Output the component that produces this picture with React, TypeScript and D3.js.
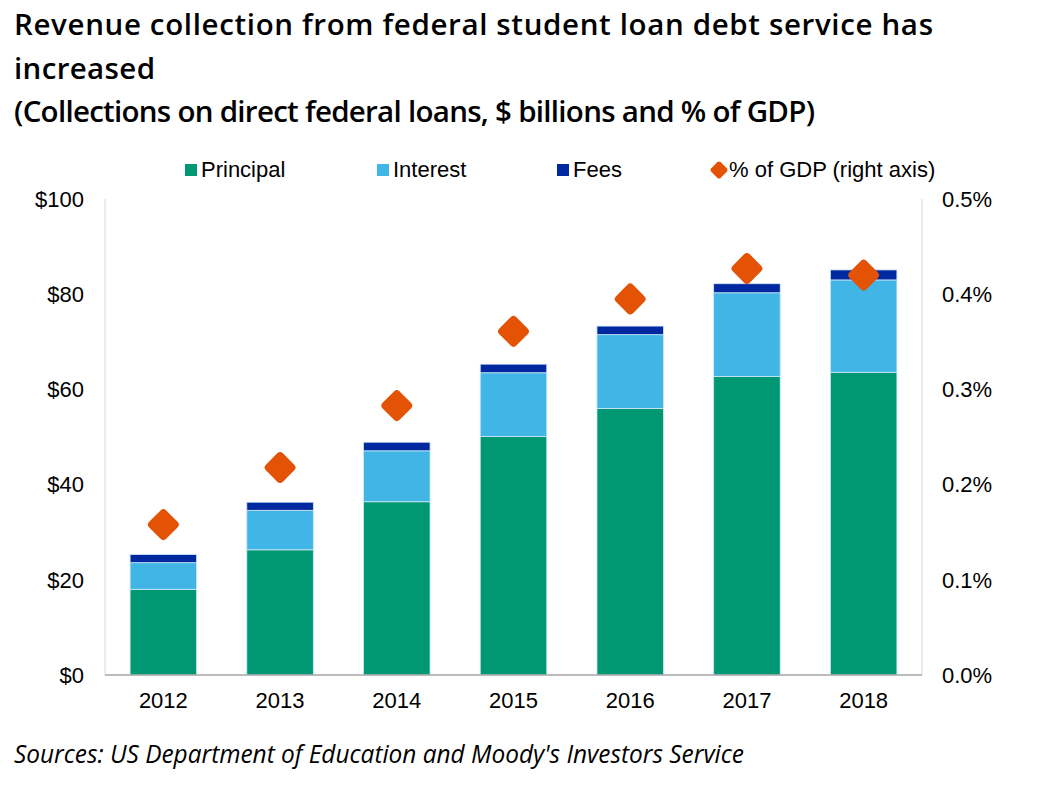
import { useEffect, useRef } from "react";
import * as d3 from "d3";

const years = ["2012", "2013", "2014", "2015", "2016", "2017", "2018"];
const principal = [18.0, 26.3, 36.4, 50.1, 56.0, 62.7, 63.6];
const interest = [5.6, 8.3, 10.7, 13.4, 15.5, 17.6, 19.4];
const fees = [1.7, 1.7, 1.8, 1.8, 1.8, 1.9, 2.1];
const gdpShare = [0.158, 0.218, 0.283, 0.361, 0.395, 0.427, 0.42];

const leftTicks = [0, 20, 40, 60, 80, 100];
const rightTicks = [0, 0.1, 0.2, 0.3, 0.4, 0.5];

const seriesKeys = ["principal", "interest", "fees"] as const;
const seriesNames = ["Principal", "Interest", "Fees"];

const titleLines = [
  "Revenue collection from federal student loan debt service has",
  "increased",
  "(Collections on direct federal loans, $ billions and % of GDP)",
];
const titleWidths = [919, 141, 801];
const sourceText = "Sources: US Department of Education and Moody's Investors Service";

const colors = {
  principal: "#009873",
  interest: "#41b6e6",
  fees: "#0028a0",
  gdp: "#e35205",
  text: "#000000",
  axis: "#d9d9d9",
  base: "#a6a6a6",
};

const W = 1040;
const H = 794;
const labelFont = "'Liberation Sans', Arial, sans-serif";
const titleFont = "'Open Sans', 'Noto Sans', sans-serif";

// rotated square with softened corners, centred on 0,0
function diamondPath(r: number, c: number) {
  const p = d3.path();
  const k = c / Math.SQRT2;
  p.moveTo(-k, -r + k);
  p.quadraticCurveTo(0, -r, k, -r + k);
  p.lineTo(r - k, -k);
  p.quadraticCurveTo(r, 0, r - k, k);
  p.lineTo(k, r - k);
  p.quadraticCurveTo(0, r, -k, r - k);
  p.lineTo(-r + k, k);
  p.quadraticCurveTo(-r, 0, -r + k, -k);
  p.closePath();
  return p.toString();
}

export default function App() {
  const svgRef = useRef<SVGSVGElement>(null);

  useEffect(() => {
    if (!svgRef.current) return;
    const svg = d3.select(svgRef.current);
    svg.selectAll("*").remove();

    const left = 105;
    const right = 922;
    const top = 199;
    const bottom = 675;

    const x = d3
      .scaleBand<string>()
      .domain(years)
      .range([left, right])
      .paddingInner(0.43)
      .paddingOuter(0.215);
    const y = d3.scaleLinear().domain([0, 100]).range([bottom, top]);
    const y2 = d3.scaleLinear().domain([0, 0.5]).range([bottom, top]);

    // Titles
    svg
      .append("g")
      .selectAll("text")
      .data(titleLines)
      .join("text")
      .attr("x", 14)
      .attr("y", (_, i) => 35 + i * 43.5)
      .attr("font-family", titleFont)
      .attr("font-weight", 600)
      .attr("font-size", 29.5)
      .attr("textLength", (_, i) => titleWidths[i])
      .attr("lengthAdjust", "spacing")
      .attr("fill", colors.text)
      .text((d) => d);

    // Stack data
    const rows = years.map((yr, i) => ({
      year: yr,
      principal: principal[i],
      interest: interest[i],
      fees: fees[i],
    }));
    const stacked = d3.stack<(typeof rows)[number]>().keys(seriesKeys as unknown as string[])(rows);

    // Axis lines
    [left, right].forEach((ax) => {
      svg
        .append("line")
        .attr("x1", ax)
        .attr("x2", ax)
        .attr("y1", top)
        .attr("y2", bottom)
        .attr("stroke", colors.axis)
        .attr("stroke-width", 1);
    });

    // Bars
    svg
      .append("g")
      .selectAll("g")
      .data(stacked)
      .join("g")
      .attr("fill", (d) => colors[d.key as keyof typeof colors])
      .selectAll("rect")
      .data((d) => d)
      .join("rect")
      .attr("x", (d) => x(d.data.year)!)
      .attr("width", x.bandwidth())
      .attr("y", (d) => y(d[1]))
      .attr("height", (d) => y(d[0]) - y(d[1]))
      .attr("stroke", "#cfe9f5")
      .attr("stroke-width", 0.8);

    // Baseline
    svg
      .append("line")
      .attr("x1", left)
      .attr("x2", right)
      .attr("y1", bottom)
      .attr("y2", bottom)
      .attr("stroke", colors.base)
      .attr("stroke-width", 1.5);

    // GDP diamonds
    svg
      .append("g")
      .selectAll("path")
      .data(gdpShare)
      .join("path")
      .attr("d", diamondPath(17, 4))
      .attr(
        "transform",
        (d, i) => `translate(${x(years[i])! + x.bandwidth() / 2},${y2(d)})`
      )
      .attr("fill", colors.gdp);

    // Left ticks
    svg
      .append("g")
      .selectAll("text")
      .data(leftTicks)
      .join("text")
      .attr("x", 84)
      .attr("y", (d) => y(d))
      .attr("dy", "0.35em")
      .attr("text-anchor", "end")
      .attr("font-family", labelFont)
      .attr("font-size", 22)
      .attr("fill", colors.text)
      .text((d) => `$${d}`);

    // Right ticks
    svg
      .append("g")
      .selectAll("text")
      .data(rightTicks)
      .join("text")
      .attr("x", 942)
      .attr("y", (d) => y2(d))
      .attr("dy", "0.35em")
      .attr("font-family", labelFont)
      .attr("font-size", 22)
      .attr("fill", colors.text)
      .text((d) => d3.format(".1f")(d) + "%");

    // Year labels
    svg
      .append("g")
      .selectAll("text")
      .data(years)
      .join("text")
      .attr("x", (d) => x(d)! + x.bandwidth() / 2)
      .attr("y", 708)
      .attr("text-anchor", "middle")
      .attr("font-family", labelFont)
      .attr("font-size", 22)
      .attr("fill", colors.text)
      .text((d) => d);

    // Legend
    const legendX = [185, 377, 557];
    const legend = svg.append("g");
    seriesKeys.forEach((k, i) => {
      legend
        .append("rect")
        .attr("x", legendX[i])
        .attr("y", 164)
        .attr("width", 12)
        .attr("height", 12)
        .attr("fill", colors[k]);
      legend
        .append("text")
        .attr("x", legendX[i] + 16)
        .attr("y", 177)
        .attr("font-family", labelFont)
        .attr("font-size", 22)
        .attr("fill", colors.text)
        .text(seriesNames[i]);
    });
    legend
      .append("path")
      .attr("d", diamondPath(9.5, 2.5))
      .attr("transform", "translate(719,170)")
      .attr("fill", colors.gdp);
    legend
      .append("text")
      .attr("x", 729)
      .attr("y", 177)
      .attr("font-family", labelFont)
      .attr("font-size", 22)
      .attr("fill", colors.text)
      .text("% of GDP (right axis)");

    // Source
    svg
      .append("text")
      .attr("x", 14)
      .attr("y", 763)
      .attr("font-family", titleFont)
      .attr("font-style", "italic")
      .attr("font-size", 25)
      .attr("textLength", 730)
      .attr("lengthAdjust", "spacingAndGlyphs")
      .attr("fill", colors.text)
      .text(sourceText);
  }, []);

  return (
    <svg
      ref={svgRef}
      width={W}
      height={H}
      style={{ position: "absolute", left: 0, top: 0, background: "#fff" }}
    />
  );
}
